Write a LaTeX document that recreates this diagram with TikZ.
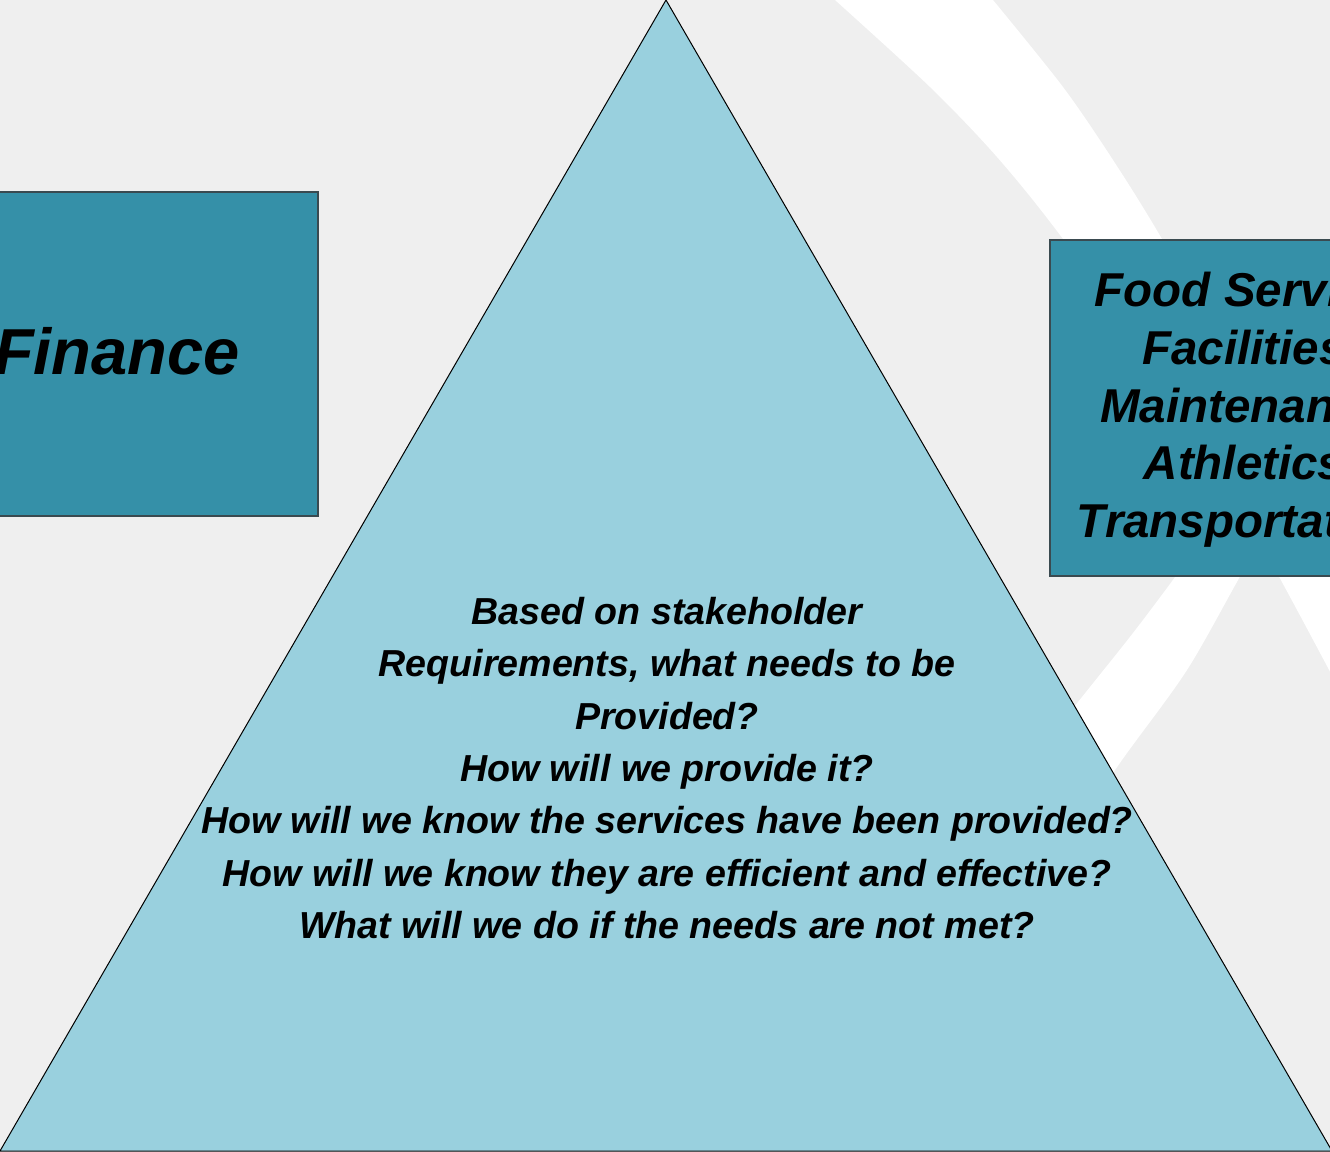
\documentclass[tikz,border=0pt]{standalone}
\usepackage{fontspec}
\setmainfont{Liberation Sans}
\definecolor{bg}{HTML}{EFEFEF}
\definecolor{boxfill}{HTML}{3590A8}
\definecolor{boxline}{HTML}{3A4A50}
\definecolor{trifill}{HTML}{99D0DE}
\begin{document}
\begin{tikzpicture}[x=1pt,y=-1pt,
  boxshape/.style={draw=boxline, line width=1.2pt, fill=boxfill, inner sep=0pt, rectangle},
  boxtext/.style={text=black, align=center, inner sep=0pt, font=\bfseries\itshape},
  tritext/.style={text=black, align=center, inner sep=0pt,
    font=\fontsize{37.6}{52.3}\selectfont\bfseries\itshape}]
\useasboundingbox (0,0) rectangle (1330,1151);
\begin{scope}
\clip (0,0) rectangle (1330,1151);
\fill[bg] (0,0) rectangle (1330,1151);
% white arc bands
\fill[white] plot[smooth] coordinates {(835,0) (930,87) (997,157) (1063,239) (1183,406) (1277,573) (1345,700)}
  -- (1420,700) -- (1420,500)
  -- plot[smooth] coordinates {(1345,565) (1254,400) (1162,239) (1113,160) (1063,87) (993,0)} -- cycle;
\fill[white] plot[smooth] coordinates {(1000,800) (1082,697) (1133,633) (1178,573) (1215,520)}
  -- plot[smooth] coordinates {(1285,500) (1242,573) (1187,670) (1122,760) (1060,850)} -- cycle;
% boxes
\node[boxshape, minimum width=406pt, minimum height=324pt] (finbox) at (115,354) {};
\node[boxtext, font=\fontsize{65}{78}\selectfont\bfseries\itshape] (fintext) at (117,351) {Finance};
\node[boxshape, minimum width=388pt, minimum height=336pt] (opsbox) at (1244,408) {};
\node[boxtext, font=\fontsize{47.5}{57.7}\selectfont\bfseries\itshape] (opstext) at (1244,410)
  {Food Service\\Facilities\\Maintenance\\Athletics\\Transportation};
% triangle
\coordinate (apex) at (666,0);
\coordinate (bl) at (0,1151);
\coordinate (br) at (1332,1151);
\filldraw[fill=trifill, draw=black, line width=1pt, line join=miter] (apex) -- (bl) -- (br) -- cycle;
\node[tritext] (questions) at (667,768)
  {Based on stakeholder\\Requirements, what needs to be\\Provided?\\How will we provide it?\\How will we know the services have been provided?\\How will we know they are efficient and effective?\\What will we do if the needs are not met?};
\end{scope}
\end{tikzpicture}
\end{document}
